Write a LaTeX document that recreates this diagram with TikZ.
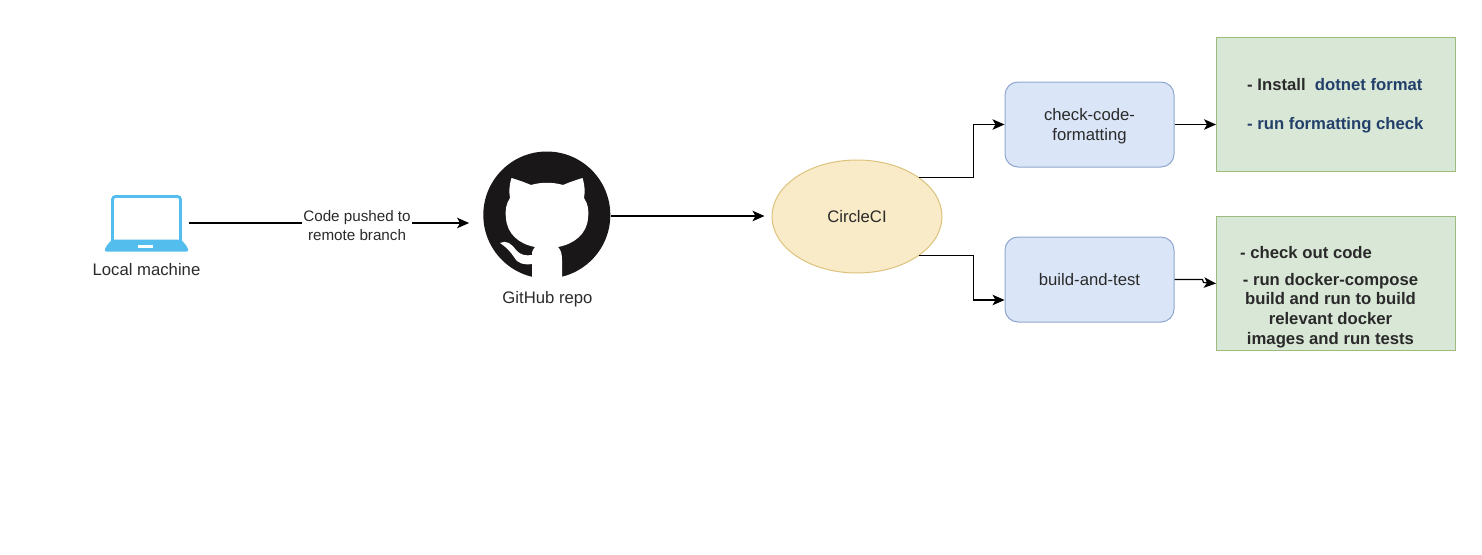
\documentclass[tikz,border=0pt]{standalone}
\usepackage{fontspec}
\setmainfont{Liberation Sans}
\usetikzlibrary{shapes.geometric,arrows.meta,calc}
\definecolor{txt}{HTML}{2A2A2A}
\definecolor{navy}{HTML}{23406B}
\definecolor{sky}{HTML}{53BDEE}
\definecolor{ghblack}{HTML}{1A1718}
\definecolor{jobline}{HTML}{8EA6CF}
\definecolor{jobfill}{HTML}{DAE6F7}
\definecolor{noteline}{HTML}{9DBB7E}
\definecolor{notefill}{HTML}{D9E7D6}
\definecolor{ciline}{HTML}{DCC27C}
\definecolor{cifill}{HTML}{FAEBC8}
\tikzset{
  x=1pt,y=-1pt,
  every node/.style={text=txt,font=\fontsize{16.7}{19.5}\selectfont},
  link/.style={draw=black,line width=1.2pt,-{Stealth[length=12pt,width=10.5pt,inset=3pt]}},
  job/.style={draw=jobline,fill=jobfill,line width=1pt,rounded corners=13pt,minimum width=169pt,minimum height=85pt,align=center,inner sep=0pt},
  notes/.style={draw=noteline,fill=notefill,line width=1pt,minimum width=239pt,minimum height=134pt,inner sep=0pt,anchor=north west},
  caption/.style={inner sep=0pt},
  notetext/.style={inner sep=0pt,font=\fontsize{16.7}{19.6}\selectfont\bfseries},
}
\begin{document}
\begin{tikzpicture}
\useasboundingbox (0,0) rectangle (1482,554);
% laptop
\node[inner sep=0pt,minimum width=84pt,minimum height=57pt] (laptop) at (146.5,223) {};
\draw[sky,line width=2.8pt,rounded corners=3pt,fill=white] (112.5,243) -- (112.5,196.5) -- (180.5,196.5) -- (180.5,243);
\fill[sky,rounded corners=2pt] (104.5,251.5) -- (105.5,247) -- (112,239.5) -- (181,239.5) -- (187.5,247) -- (188.5,251.5) -- cycle;
\fill[white] (138,245) rectangle (153,248);
\node[caption] (laptopcap) at (146.5,270) {Local machine};
% github
\node[circle,fill=ghblack,minimum size=127pt,inner sep=0pt] (gh) at (546.8,215) {};
\fill[white] (511.5,178) .. controls (518,180) and (524,182) .. (531,185)
  .. controls (541,182) and (553,182) .. (563,185)
  .. controls (570,182) and (576,180) .. (582.5,178)
  .. controls (585,186) and (585,192) .. (584,198)
  .. controls (588,204) and (589,210) .. (588,218)
  .. controls (587,234) and (574,244) .. (558,247)
  .. controls (561,250) and (562,254) .. (562,260)
  -- (562,279) -- (532,279)
  -- (532,264)
  .. controls (524,265) and (518,264) .. (514,257)
  .. controls (510,251) and (506,247) .. (500,243)
  .. controls (506,240) and (511,243) .. (516,250)
  .. controls (520,255) and (526,256) .. (532,255)
  .. controls (532,251) and (533,249) .. (535,247)
  .. controls (519,244) and (507,234) .. (506,218)
  .. controls (505,210) and (506,204) .. (510,198)
  .. controls (509,192) and (509,186) .. (511.5,178) -- cycle;
\node[caption] (ghcap) at (547.5,299) {GitHub repo};
% circleci
\node[ellipse,draw=ciline,fill=cifill,line width=1pt,minimum width=170pt,minimum height=113pt,inner sep=0pt] (ci) at (857,216.5) {CircleCI};
% jobs
\node[job] (check) at (1089.5,124.5) {};
\node[caption,align=center] (checktext) at (1089.5,126) {check-code-\\formatting};
\node[job] (build) at (1089.5,279.5) {build-and-test};
% notes
\node[notes] (noteA) at (1216,36.5) {};
\node[notes] (noteB) at (1216,216) {};
\node[notetext,anchor=west] (a1) at (1247,84.5) {- Install\ \ \textcolor{navy}{dotnet format}};
\node[notetext,anchor=west,text=navy] (a2) at (1247,125) {- run formatting check};
\node[notetext,anchor=west] (b1) at (1240,252.5) {- check out code};
\node[notetext,align=center] (b2) at (1330.5,310.5) {- run docker-compose\\build and run to build\\relevant docker\\images and run tests};
% connectors
\draw[link] (laptop.east) -- ($(laptop.east -| gh.west)+(-14,0)$);
\node[fill=white,inner sep=1pt,align=center,font=\fontsize{15.2}{18.3}\selectfont] (pushed) at (357,225.5) {Code pushed to\\remote branch};
\draw[link] ($(gh.east)+(0,1)$) -- ($(gh.east -| ci.west)+(-7,1)$);
\draw[link] (ci.32.6) -| ($(ci.32.6)+(54.5,0)$) |- (check.west);
\draw[link] (ci.-32.6) -| ($(ci.-32.6)+(54.5,0)$) |- ($(build.west)+(0,20.5)$);
\draw[link] (check.east) -- (check.east -| noteA.west);
\draw[link] (build.east) -- ++(28,0) -- ++(1,3) -- (noteB.west |- 0,283.5);
\end{tikzpicture}
\end{document}
